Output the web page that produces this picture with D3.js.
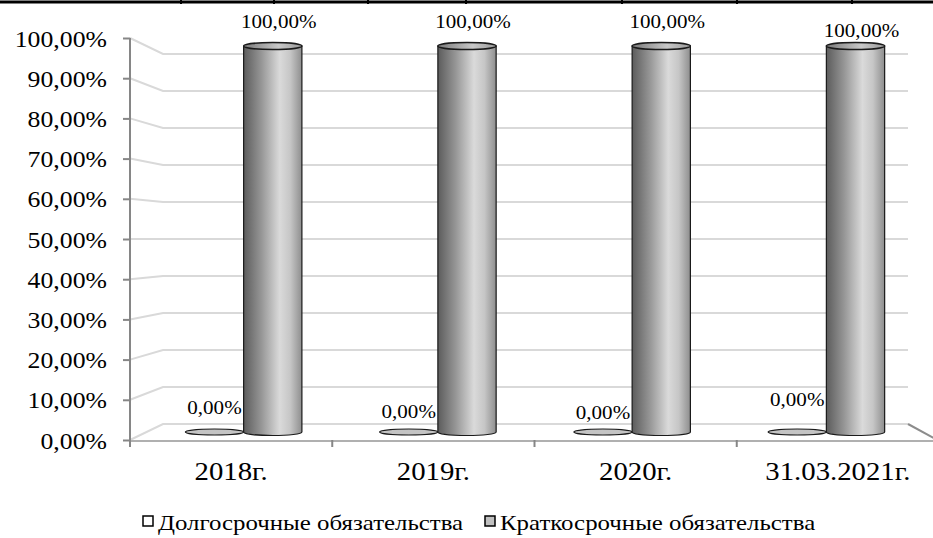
<!DOCTYPE html>
<html>
<head>
<meta charset="utf-8">
<script src="https://cdn.jsdelivr.net/npm/d3@7"></script>
<style>
  html, body { margin: 0; padding: 0; background: #fff; }
  svg { display: block; }
  text { font-family: "Liberation Serif", "Times New Roman", serif; fill: #000; }
</style>
</head>
<body>
<svg id="chart" width="933" height="538"></svg>
<script>
// ---- data ----
const categories = ["2018г.", "2019г.", "2020г.", "31.03.2021г."];
const seriesNames = ["Долгосрочные обязательства", "Краткосрочные обязательства"];
const longTerm  = [0, 0, 0, 0];
const shortTerm = [100, 100, 100, 100];
const yTicks = [0, 10, 20, 30, 40, 50, 60, 70, 80, 90, 100];

// vertical nudges for the value labels (px)
const shortLabelNudge = [0, 0, 0, 9];
const longLabelNudge  = [0, 4, 5, -8];

const svg = d3.select("#chart");
const fmt = v => d3.format(".2f")(v).replace(".", ",") + "%";

// widen glyphs horizontally around their anchor point
function stretch(sel, sx) {
  sel.each(function () {
    const t = d3.select(this);
    const x = +t.attr("x") || 0, y = +t.attr("y") || 0;
    t.attr("x", 0).attr("y", 0)
      .attr("transform", `translate(${x},${y}) scale(${sx},1)`);
  });
}

// ---- pseudo-3D plot box: a front plane and a back plane ----
const frontX = d3.scaleLinear().domain([0, 1]).range([130, 939]);
const backX  = d3.scaleLinear().domain([0, 1]).range([163, 908]);
const frontY = d3.scaleLinear().domain([0, 100]).range([440, 38]);
const backY  = d3.scaleLinear().domain([0, 100]).range([424, 54]);
const lerp = (a, b, t) => a + (b - a) * t;
const px = (f, depth) => lerp(frontX(f), backX(f), depth);
const py = (v, depth) => lerp(frontY(v), backY(v), depth);

const cat = d3.scaleBand().domain(categories).range([0, 1]);
const ser = d3.scaleBand().domain(seriesNames).range([0.2, 0.8]);
const barDepth = 0.5;

// top table border
svg.append("line").attr("x1", 0).attr("x2", 933).attr("y1", 2).attr("y2", 2)
  .attr("stroke", "#000").attr("stroke-width", 3);
[181, 274, 368, 466, 622, 737, 852].forEach(x => {
  svg.append("line").attr("x1", x).attr("x2", x).attr("y1", 0).attr("y2", 4)
    .attr("stroke", "#000").attr("stroke-width", 2);
});

// gradients for the cylinders
const defs = svg.append("defs");
const body = defs.append("linearGradient").attr("id", "cylBody")
  .attr("x1", "0%").attr("x2", "100%").attr("y1", "0%").attr("y2", "0%");
[["0%", "#5c5c5c"], ["30%", "#959595"], ["62%", "#dadada"], ["80%", "#c6c6c6"], ["100%", "#8e8e8e"]]
  .forEach(([o, c]) => body.append("stop").attr("offset", o).attr("stop-color", c));
const cap = defs.append("linearGradient").attr("id", "cylCap")
  .attr("x1", "0%").attr("x2", "100%").attr("y1", "0%").attr("y2", "0%");
[["0%", "#7a7a7a"], ["60%", "#c8c8c8"], ["100%", "#9a9a9a"]]
  .forEach(([o, c]) => cap.append("stop").attr("offset", o).attr("stop-color", c));

// ---- walls, gridlines and floor ----
const grid = svg.append("g");
yTicks.forEach(v => {
  grid.append("path")
    .attr("d", `M${frontX(0)},${frontY(v)}L${backX(0)},${backY(v)}L${backX(1)},${backY(v)}`)
    .attr("fill", "none").attr("stroke", "#d9d9d9").attr("stroke-width", 2);
});
grid.append("line").attr("x1", frontX(0)).attr("x2", frontX(1))
  .attr("y1", frontY(0) + 1).attr("y2", frontY(0) + 1)
  .attr("stroke", "#b0b0b0").attr("stroke-width", 2);
grid.append("line").attr("x1", backX(1)).attr("y1", backY(0))
  .attr("x2", frontX(1)).attr("y2", frontY(0) + 1)
  .attr("stroke", "#8c8c8c").attr("stroke-width", 2);

// ---- y axis on the front plane ----
const yAxis = d3.axisLeft(frontY).tickValues(yTicks).tickFormat(fmt)
  .tickSize(7).tickSizeOuter(0).tickPadding(16);
const yg = svg.append("g").attr("transform", `translate(${frontX(0)},0)`).call(yAxis);
yg.select(".domain").remove();
yg.selectAll(".tick line").attr("stroke", "#868686").attr("stroke-width", 2);
yg.selectAll(".tick text").attr("font-size", 23).attr("dy", null).attr("y", 8)
  .style("font-family", '"Liberation Serif", serif');
stretch(yg.selectAll(".tick text"), 1.12);
svg.append("line").attr("x1", frontX(0)).attr("x2", frontX(0))
  .attr("y1", frontY(100)).attr("y2", frontY(0) + 7)
  .attr("stroke", "#868686").attr("stroke-width", 2);

// ---- x axis ticks and category labels on the front plane ----
const xg = svg.append("g");
categories.forEach((c, i) => {
  const f = cat(c) + cat.bandwidth();
  xg.append("line").attr("x1", frontX(f)).attr("x2", frontX(f))
    .attr("y1", frontY(0)).attr("y2", frontY(0) + 7)
    .attr("stroke", "#868686").attr("stroke-width", 2);
  xg.append("text")
    .attr("x", frontX(cat(c) + cat.bandwidth() / 2))
    .attr("y", 480)
    .attr("text-anchor", "middle").attr("font-size", 25)
    .text(c);
});
stretch(xg.selectAll("text"), 1.15);

// ---- cylinders ----
function cylinder(g, c, s, v, ry) {
  const f0 = cat(c) + ser(s) * cat.bandwidth();
  const f1 = f0 + ser.bandwidth() * cat.bandwidth();
  const x0 = px(f0, barDepth), x1 = px(f1, barDepth);
  const rx = (x1 - x0) / 2, cx = (x0 + x1) / 2;
  const yb = py(0, barDepth), yt = py(v, barDepth);
  if (yb - yt > 1) {
    g.append("path")
      .attr("d", `M${x0},${yt}L${x0},${yb}A${rx},${ry} 0 0 0 ${x1},${yb}L${x1},${yt}Z`)
      .attr("fill", "url(#cylBody)").attr("stroke", "#1a1a1a").attr("stroke-width", 1.2);
    g.append("ellipse").attr("cx", cx).attr("cy", yt).attr("rx", rx).attr("ry", ry)
      .attr("fill", "url(#cylCap)").attr("stroke", "#1a1a1a").attr("stroke-width", 1.5);
  } else {
    g.append("ellipse").attr("cx", cx).attr("cy", yb).attr("rx", rx).attr("ry", ry)
      .attr("fill", "#c4c4c4").attr("stroke", "#1a1a1a").attr("stroke-width", 1.2);
  }
  return { cx, yt };
}

const bars = svg.append("g");
const labels = svg.append("g");
categories.forEach((c, i) => {
  const a = cylinder(bars, c, seriesNames[0], longTerm[i], 3);
  const b = cylinder(bars, c, seriesNames[1], shortTerm[i], 3.5);
  labels.append("text").attr("x", a.cx).attr("y", 414 + longLabelNudge[i])
    .attr("text-anchor", "middle").attr("font-size", 18).text(fmt(longTerm[i]));
  labels.append("text").attr("x", b.cx + 6).attr("y", b.yt - 18 + shortLabelNudge[i])
    .attr("text-anchor", "middle").attr("font-size", 18).text(fmt(shortTerm[i]));
});
stretch(labels.selectAll("text"), 1.17);

// ---- legend ----
const legendFill = ["#ffffff", "#c0c0c0"];
const legendX = [143, 485];
const lg = svg.append("g");
seriesNames.forEach((s, i) => {
  lg.append("rect").attr("x", legendX[i]).attr("y", 516).attr("width", 10).attr("height", 10)
    .attr("fill", legendFill[i]).attr("stroke", "#000").attr("stroke-width", 1.5);
  lg.append("text").attr("x", legendX[i] + 15).attr("y", 530)
    .attr("font-size", 22).text(s);
});
stretch(lg.selectAll("text"), 1.13);
</script>
</body>
</html>
